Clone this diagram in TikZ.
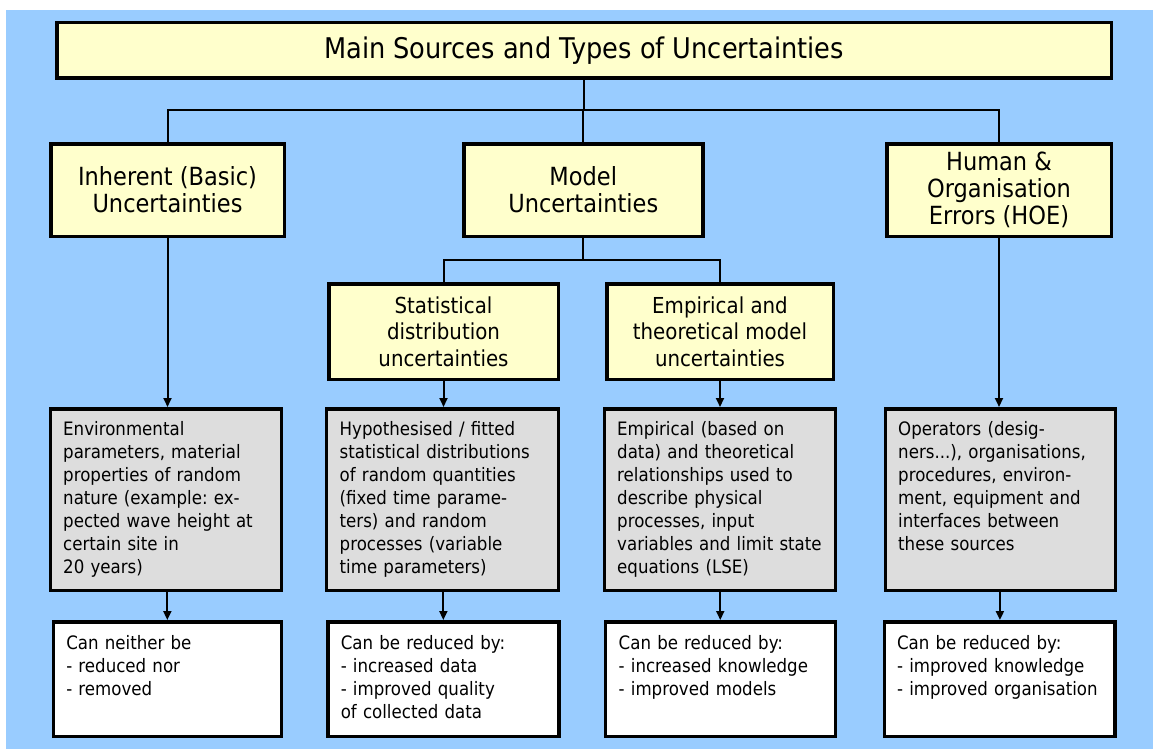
\documentclass[tikz,border=0pt]{standalone}
\usepackage{fontspec}
\setmainfont{DejaVu Sans}[FakeStretch=0.9]
\usetikzlibrary{arrows.meta}
\definecolor{bgblue}{HTML}{99CCFF}
\definecolor{boxyellow}{HTML}{FFFFCC}
\definecolor{boxgray}{HTML}{DDDDDD}
\frenchspacing
\begin{document}
\begin{tikzpicture}[x=1pt,y=-1pt,
  boxbase/.style={draw=black, line width=3.5pt, inner sep=0pt, outer sep=1.75pt, align=center},
  titlebox/.style={boxbase, fill=boxyellow, font=\fontsize{28.5}{31}\selectfont},
  levelbox/.style={boxbase, fill=boxyellow, font=\fontsize{25}{27.2}\selectfont},
  subbox/.style={boxbase, fill=boxyellow, font=\fontsize{22}{26.5}\selectfont},
  graybox/.style={boxbase, fill=boxgray},
  whitebox/.style={boxbase, fill=white},
  bodytext/.style={anchor=north west, inner sep=0pt, align=left, text width=215pt, font=\fontsize{18.5}{23}\selectfont\frenchspacing},
  conn/.style={draw=black, line width=2pt},
  arr/.style={conn, -{Triangle[width=8pt,length=9pt]}}
]
\useasboundingbox (0,0) rectangle (1164,749);
\fill[bgblue] (6,10) rectangle (1153,749);

% title
\node[titlebox, minimum width=1054.5pt, minimum height=55.5pt] (title) at (584,50.5) {Main Sources and Types of Uncertainties};

% level 2
\node[levelbox, minimum width=233.5pt, minimum height=92.5pt] (inh) at (167.5,190) {Inherent (Basic)\\Uncertainties};
\node[levelbox, minimum width=239pt, minimum height=92.5pt] (mod) at (583.25,190) {Model\\Uncertainties};
\node[levelbox, minimum width=224.5pt, minimum height=92.5pt] (hum) at (999,190) {Human \&\\Organisation\\Errors (HOE)};

% level 3
\node[subbox, minimum width=229.5pt, minimum height=95.5pt] (stat) at (443.5,331.5) {Statistical\\distribution\\uncertainties};
\node[subbox, minimum width=226.5pt, minimum height=95.5pt] (emp) at (720,331.5) {Empirical and\\theoretical model\\uncertainties};

% gray boxes
\node[graybox, minimum width=231pt, minimum height=181.5pt] (env) at (165.75,499.5) {};
\node[graybox, minimum width=232pt, minimum height=181.5pt] (hyp) at (442.25,499.5) {};
\node[graybox, minimum width=231pt, minimum height=181.5pt] (empl) at (719.75,499.5) {};
\node[graybox, minimum width=230pt, minimum height=181.5pt] (ops) at (1000.25,499.5) {};

% white boxes
\node[whitebox, minimum width=228pt, minimum height=114.5pt] (w1) at (167.35,679) {};
\node[whitebox, minimum width=231pt, minimum height=114.5pt] (w2) at (443.35,679) {};
\node[whitebox, minimum width=230pt, minimum height=114.5pt] (w3) at (720.25,679) {};
\node[whitebox, minimum width=230.5pt, minimum height=114.5pt] (w4) at (999.9,679) {};

% texts in gray boxes
\node[bodytext] (envT) at ([xshift=14.5pt,yshift=-12pt]env.north west) {\noindent\strut Environmental\\parameters, material\\properties of random\\nature (example: ex-\\pected wave height at\\certain site in\\20 years)};
\node[bodytext] (hypT) at ([xshift=15pt,yshift=-12pt]hyp.north west) {\noindent\strut Hypothesised / fitted\\statistical distributions\\of random quantities\\(fixed time parame-\\ters) and random\\processes (variable\\time parameters)};
\node[bodytext] (emplT) at ([xshift=14.5pt,yshift=-12pt]empl.north west) {\noindent\strut Empirical (based on\\data) and theoretical\\relationships used to\\describe physical\\processes, input\\variables and limit state\\equations (LSE)};
\node[bodytext] (opsT) at ([xshift=14.5pt,yshift=-12pt]ops.north west) {\noindent\strut Operators (desig-\\ners...), organisations,\\procedures, environ-\\ment, equipment and\\interfaces between\\these sources};

% texts in white boxes
\node[bodytext] (w1T) at ([xshift=14.5pt,yshift=-13pt]w1.north west) {\noindent\strut Can neither be\\- reduced nor\\- removed};
\node[bodytext] (w2T) at ([xshift=14.5pt,yshift=-13pt]w2.north west) {\noindent\strut Can be reduced by:\\- increased data\\- improved quality\\of collected data};
\node[bodytext] (w3T) at ([xshift=15pt,yshift=-13pt]w3.north west) {\noindent\strut Can be reduced by:\\- increased knowledge\\- improved models};
\node[bodytext] (w4T) at ([xshift=14pt,yshift=-13pt]w4.north west) {\noindent\strut Can be reduced by:\\- improved knowledge\\- improved organisation};

% tree connectors
\coordinate (j1) at (584,110);
\coordinate (j2) at (583,260);
\draw[conn] (title.south) -- (j1);
\draw[conn] (inh.north) |- (hum.north |- j1) -- (hum.north);
\draw[conn] (mod.north |- j1) -- (mod.north);
\draw[conn] (mod.south) -- (mod.south |- j2);
\draw[conn] (stat.north) |- (emp.north |- j2) -- (emp.north);

% arrows
\draw[arr] (inh.south) -- (inh.south |- env.north);
\draw[arr] (stat.south) -- (stat.south |- hyp.north);
\draw[arr] (emp.south) -- (emp.south |- empl.north);
\draw[arr] (hum.south) -- (hum.south |- ops.north);
\draw[arr] (w1.north |- env.south) -- (w1.north);
\draw[arr] (w2.north |- hyp.south) -- (w2.north);
\draw[arr] (w3.north |- empl.south) -- (w3.north);
\draw[arr] (w4.north |- ops.south) -- (w4.north);
\end{tikzpicture}
\end{document}
